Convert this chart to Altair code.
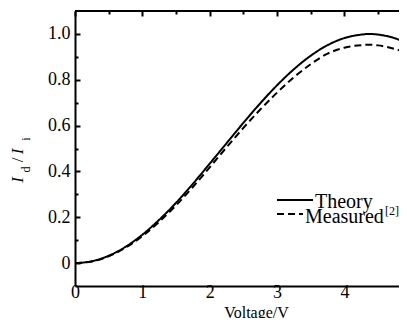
import altair as alt
import pandas as pd

# ---- data ----
volts = [0, 0.25, 0.5, 0.75, 1.0, 1.25, 1.5, 1.75, 2.0, 2.25, 2.5, 2.75,
         3.0, 3.25, 3.5, 3.75, 4.0, 4.25, 4.37, 4.5, 4.75, 4.93]
theory = [0, 0.008, 0.032, 0.071, 0.124, 0.189, 0.263, 0.346, 0.434, 0.523,
          0.612, 0.697, 0.776, 0.846, 0.905, 0.951, 0.982, 0.997, 1.0, 0.997, 0.981, 0.960]
measured = [0, 0.007, 0.030, 0.067, 0.118, 0.180, 0.252, 0.332, 0.418, 0.505,
            0.590, 0.670, 0.744, 0.811, 0.868, 0.914, 0.940, 0.951, 0.953, 0.950, 0.934, 0.918]
series_names = ["Theory", "Measured"]

x_tick_values = [0, 0.5, 1, 1.5, 2, 2.5, 3, 3.5, 4, 4.5]
y_tick_values = [0.0, 0.1, 0.2, 0.3, 0.4, 0.5, 0.6, 0.7, 0.8, 0.9, 1.0]
x_domain = [0, 4.81]
y_domain = [-0.1, 1.1]

W, H = 324, 275
FONT = "Liberation Serif"

df = pd.DataFrame({
    "v": volts * 2,
    "r": theory + measured,
    "series": [series_names[0]] * len(volts) + [series_names[1]] * len(volts),
})

xs = alt.Scale(domain=x_domain, nice=False, zero=False)
ys = alt.Scale(domain=y_domain, nice=False, zero=False)
dash_scale = alt.Scale(domain=series_names, range=[[1, 0], [7, 4]])

x_major = "datum.value % 1 == 0"
y_major = "abs(datum.value * 5 - round(datum.value * 5)) < 0.001"

# inward ticks are drawn as the first few pixels of dashed grid lines
main_x_axis = alt.Axis(orient="bottom", values=x_tick_values, ticks=False, tickSize=0,
                       domain=True, domainWidth=2, domainColor="black",
                       grid=True, gridColor="black", gridWidth=2, gridOpacity=1,
                       gridDash={"condition": {"test": x_major, "value": [5, 2000]},
                                 "value": [3, 2000]},
                       labelExpr=f"{x_major} ? format(datum.value, 'd') : ''",
                       labelFont=FONT, labelFontSize=18, labelColor="black",
                       labelPadding=-3, labelFlush=False,
                       title="Voltage/V", titleFont=FONT, titleFontSize=16,
                       titleFontWeight="normal", titleColor="black",
                       titleX=181, titleY=31, titleBaseline="alphabetic")
main_y_axis = alt.Axis(orient="left", values=y_tick_values, ticks=False, tickSize=0,
                       domain=True, domainWidth=2, domainColor="black",
                       grid=True, gridColor="black", gridWidth=2, gridOpacity=1,
                       gridDash={"condition": {"test": y_major, "value": [5, 2000]},
                                 "value": [3, 2000]},
                       labelFont=FONT, labelFontSize=18, labelColor="black",
                       labelPadding=5, labelFlush=False,
                       labelExpr=f"{y_major} ? (datum.value == 0 ? '0' : format(datum.value, '.1f')) : ''",
                       title="")

base = alt.Chart(df)

theory_layer = base.transform_filter(alt.datum.series == series_names[0]).mark_line(
    color="black", strokeWidth=2, interpolate="monotone"
).encode(
    x=alt.X("v:Q", scale=xs, axis=main_x_axis),
    y=alt.Y("r:Q", scale=ys, axis=main_y_axis),
    strokeDash=alt.StrokeDash("series:N", scale=dash_scale, legend=None),
)

measured_layer = base.transform_filter(alt.datum.series == series_names[1]).mark_line(
    color="black", strokeWidth=2, interpolate="monotone"
).encode(
    x=alt.X("v:Q", scale=xs, axis=None),
    y=alt.Y("r:Q", scale=ys, axis=None),
    strokeDash=alt.StrokeDash("series:N", scale=dash_scale, legend=None),
)

frame_df = pd.DataFrame({"x": [x_domain[0]], "x2": [x_domain[1]], "y": [y_domain[1]]})
top_frame = alt.Chart(frame_df).mark_rule(color="black", strokeWidth=2).encode(
    x=alt.X("x:Q", scale=xs, axis=None),
    x2="x2:Q",
    y=alt.Y("y:Q", scale=ys, axis=None),
)

# legend (line samples + labels)
legend_layers = [
    alt.Chart(frame_df).mark_rule(color="black", strokeWidth=2).encode(
        x=alt.value(202), x2=alt.value(238), y=alt.value(189)),
    alt.Chart(frame_df).mark_rule(color="black", strokeWidth=2, strokeDash=[7, 4]).encode(
        x=alt.value(202), x2=alt.value(228), y=alt.value(203)),
    alt.Chart(frame_df).mark_text(text=series_names[0], font=FONT, fontSize=20, align="left",
                                  baseline="alphabetic", color="black").encode(
        x=alt.value(240), y=alt.value(197)),
    alt.Chart(frame_df).mark_text(text=series_names[1], font=FONT, fontSize=20, align="left",
                                  baseline="alphabetic", color="black").encode(
        x=alt.value(230), y=alt.value(212)),
    alt.Chart(frame_df).mark_text(text="[2]", font=FONT, fontSize=12, align="left",
                                  baseline="alphabetic", color="black").encode(
        x=alt.value(310), y=alt.value(204)),
]

# y-axis title I_d / I_i built from pieces (rotated)
title_pieces = [
    ("I", 17, "italic", -57, 169),
    ("d", 12, "normal", -49, 158.5),
    ("/", 17, "normal", -57, 149),
    ("I", 17, "italic", -57, 140.5),
    ("i", 12, "normal", -49, 128),
]
title_layers = []
for txt, fs, st, px, py in title_pieces:
    title_layers.append(
        alt.Chart(frame_df).mark_text(text=txt, font=FONT, fontSize=fs, fontStyle=st,
                                      angle=270, align="center", baseline="middle",
                                      color="black")
        .encode(x=alt.value(px), y=alt.value(py))
    )

chart = alt.layer(theory_layer, measured_layer, top_frame,
                  *legend_layers, *title_layers).resolve_axis(
    x="independent", y="independent"
).properties(
    width=W, height=H,
    autosize=alt.AutoSizeParams(type="none"),
    padding={"left": 67, "top": 3, "right": 0, "bottom": 32},
    background="white",
).configure_view(stroke=None)

chart.save("out.html", embed_options={"renderer": "svg", "actions": False})
